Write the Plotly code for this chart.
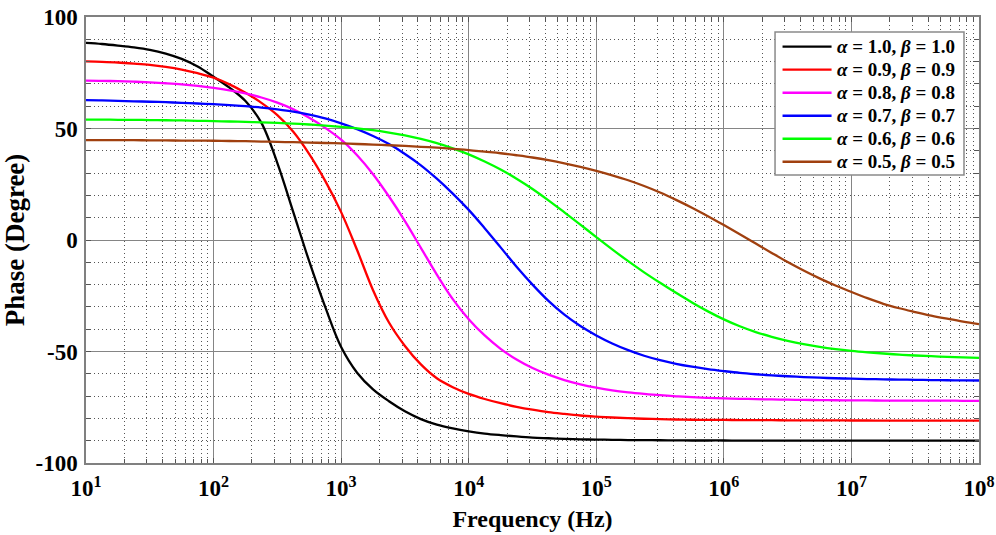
import plotly.graph_objects as go

# Sample frequencies: eighth-decade steps from 10^1 to 10^8 Hz (log10 values)
LOG_F = [1 + i / 8 for i in range(57)]
FREQ = [10 ** e for e in LOG_F]

# Phase (degrees) for each (alpha, beta) pair, one value per sample frequency
phase_10 = [88.4, 87.9, 87.2, 86.4, 85.3, 83.6, 81.2, 77.8, 73.2, 68.3,
            62.3, 52.5, 34.5, 12.5, -9.6, -30.0, -48.0, -59.5, -67.0, -72.3,
            -76.8, -80.3, -82.8, -84.5, -85.8, -86.8, -87.5, -88.1, -88.6, -88.9,
            -89.2, -89.4, -89.5, -89.6, -89.7, -89.75, -89.8, -89.85, -89.9, -89.9,
            -89.9, -90.0, -90.0, -90.0, -90.0, -90.0, -90.0, -90.0, -90.0, -90.0,
            -90.0, -90.0, -90.0, -90.0, -90.0, -90.0, -90.0]
phase_09 = [80.1, 79.9, 79.6, 79.1, 78.5, 77.6, 76.4, 74.8, 72.8, 69.8,
            66.0, 61.5, 56.0, 48.5, 38.5, 26.5, 12.5, -4.5, -22.5, -37.0,
            -47.5, -55.8, -62.0, -66.0, -69.0, -71.3, -73.2, -74.8, -76.1, -77.2,
            -78.0, -78.7, -79.2, -79.6, -79.9, -80.15, -80.35, -80.5, -80.6, -80.65,
            -80.7, -80.75, -80.8, -80.8, -80.85, -80.9, -80.9, -80.9, -80.95, -80.95,
            -81.0, -81.0, -81.0, -81.0, -81.0, -81.0, -81.0]
phase_08 = [71.5, 71.4, 71.2, 71.0, 70.7, 70.3, 69.8, 69.1, 68.2, 67.1,
            65.7, 63.9, 61.6, 58.6, 54.8, 50.3, 45.0, 38.0, 29.5, 19.5,
            8.5, -3.5, -15.5, -26.5, -35.5, -42.8, -48.8, -53.6, -57.4, -60.4,
            -62.8, -64.7, -66.2, -67.4, -68.3, -69.0, -69.6, -70.1, -70.5, -70.8,
            -71.0, -71.2, -71.35, -71.5, -71.6, -71.7, -71.8, -71.85, -71.9, -71.95,
            -72.0, -72.0, -72.0, -72.05, -72.05, -72.1, -72.1]
phase_07 = [62.7, 62.6, 62.4, 62.2, 62.0, 61.8, 61.5, 61.2, 60.9, 60.5,
            60.0, 59.4, 58.6, 57.6, 56.2, 54.5, 52.3, 49.7, 46.6, 43.0,
            38.6, 33.5, 27.5, 20.8, 13.5, 5.3, -3.3, -12.0, -20.0, -27.3,
            -33.5, -38.6, -42.8, -46.4, -49.4, -51.9, -53.9, -55.5, -56.8, -57.9,
            -58.8, -59.6, -60.2, -60.7, -61.1, -61.45, -61.75, -62.0, -62.2, -62.35,
            -62.5, -62.6, -62.7, -62.8, -62.9, -62.95, -63.0]
phase_06 = [54.0, 54.0, 53.9, 53.85, 53.8, 53.7, 53.6, 53.45, 53.3, 53.15,
            53.0, 52.75, 52.5, 52.2, 51.8, 51.3, 50.7, 50.1, 49.3, 48.2,
            46.9, 45.3, 43.4, 41.1, 38.4, 35.2, 31.6, 27.5, 22.9, 17.8,
            12.4, 6.9, 1.3, -4.2, -9.5, -14.5, -19.2, -23.7, -28.0, -32.0,
            -35.6, -38.7, -41.3, -43.4, -45.2, -46.7, -47.9, -48.9, -49.7, -50.35,
            -50.9, -51.4, -51.8, -52.1, -52.4, -52.65, -52.9]
phase_05 = [44.8, 44.8, 44.8, 44.75, 44.7, 44.65, 44.6, 44.55, 44.5, 44.4,
            44.3, 44.15, 44.0, 43.85, 43.7, 43.5, 43.3, 43.05, 42.8, 42.5,
            42.2, 41.8, 41.4, 40.9, 40.3, 39.6, 38.9, 38.0, 37.0, 35.8,
            34.4, 32.8, 31.0, 29.0, 26.8, 24.2, 21.3, 18.0, 14.5, 10.7,
            6.7, 2.6, -1.6, -5.8, -9.9, -13.7, -17.2, -20.4, -23.3, -26.1,
            -28.6, -30.6, -32.3, -33.9, -35.3, -36.6, -37.7]

SERIES = [phase_10, phase_09, phase_08, phase_07, phase_06, phase_05]
LABELS = ["<i>α</i> = 1.0, <i>β</i> = 1.0", "<i>α</i> = 0.9, <i>β</i> = 0.9",
          "<i>α</i> = 0.8, <i>β</i> = 0.8", "<i>α</i> = 0.7, <i>β</i> = 0.7",
          "<i>α</i> = 0.6, <i>β</i> = 0.6", "<i>α</i> = 0.5, <i>β</i> = 0.5"]
COLORS = ["#000000", "#ff0000", "#ff00ff", "#0000ff", "#00ff00", "#a0400f"]

X_TICKS = [10 ** k for k in range(1, 9)]
X_TICKTEXT = ["<b>10<sup>%d</sup></b>" % k for k in range(1, 9)]
X_MINOR = [m * 10 ** k for k in range(1, 8) for m in range(2, 10)]
Y_TICKS = [-100, -50, 0, 50, 100]
Y_TICKTEXT = ["<b>-100</b>", "<b>-50</b>", "<b>0</b>", "<b>50</b>", "<b>100</b>"]

SERIF = "Liberation Serif"
GRID = "#858585"
DOTS = "#555555"

fig = go.Figure()
for y, name, c in zip(SERIES, LABELS, COLORS):
    fig.add_trace(go.Scatter(x=FREQ, y=y, mode="lines", name=name,
                             line=dict(color=c, width=2.3, shape="spline", smoothing=1.0),
                             showlegend=False, hoverinfo="skip"))

# Boxed legend in the upper right corner of the axes
L_X0, L_X1, L_Y0, L_Y1 = 0.7716, 0.9832, 0.6457, 0.9664
ROW0, ROW_STEP = 0.9334, 0.0516
fig.add_shape(type="rect", xref="paper", yref="paper", x0=L_X0, x1=L_X1, y0=L_Y0, y1=L_Y1,
              fillcolor="white", line=dict(color="#8a8a8a", width=1.5), layer="above")
for i, (name, c) in enumerate(zip(LABELS, COLORS)):
    yy = ROW0 - i * ROW_STEP
    fig.add_shape(type="line", xref="paper", yref="paper", x0=0.7800, x1=0.8349, y0=yy, y1=yy,
                  line=dict(color=c, width=2.3), layer="above")
    fig.add_annotation(xref="paper", yref="paper", x=0.8385, y=yy, xanchor="left", yanchor="middle",
                       text="<b>" + name + "</b>", showarrow=False,
                       font=dict(family=SERIF, size=19, color="black"))

fig.update_xaxes(type="log", range=[1, 8], tickmode="array", tickvals=X_TICKS, ticktext=X_TICKTEXT,
                 tickfont=dict(family=SERIF, size=23, color="black"), ticklabelstandoff=4,
                 showgrid=True, gridcolor=GRID, gridwidth=1.2,
                 ticks="inside", ticklen=5, tickcolor="#555555",
                 showline=True, linecolor="#808080", linewidth=1.5, mirror="ticks",
                 minor=dict(tickmode="array", tickvals=X_MINOR, showgrid=True, gridcolor=DOTS,
                            gridwidth=1, griddash="1px,3px", ticks="inside", ticklen=4,
                            tickcolor="#555555"),
                 title=dict(text="<b>Frequency (Hz)</b>", font=dict(family=SERIF, size=24, color="black"),
                            standoff=10),
                 zeroline=False, automargin=False)
fig.update_yaxes(range=[-100, 100], tickmode="array", tickvals=Y_TICKS, ticktext=Y_TICKTEXT,
                 tickfont=dict(family=SERIF, size=23, color="black"), ticklabelstandoff=2,
                 showgrid=True, gridcolor=GRID, gridwidth=1.2,
                 ticks="inside", ticklen=5, tickcolor="#555555",
                 showline=True, linecolor="#808080", linewidth=1.5, mirror="ticks",
                 minor=dict(dtick=10, showgrid=True, gridcolor=DOTS, gridwidth=1,
                            griddash="1px,3px", ticks="inside", ticklen=4, tickcolor="#555555"),
                 title=dict(text="<b>Phase (Degree)</b>", font=dict(family=SERIF, size=27, color="black"),
                            standoff=10),
                 zeroline=False, automargin=False)

fig.update_layout(width=996, height=535, margin=dict(l=86, r=17, t=17, b=72, autoexpand=False),
                  paper_bgcolor="white", plot_bgcolor="white", showlegend=False,
                  hovermode=False)

fig.write_html("out.html")
